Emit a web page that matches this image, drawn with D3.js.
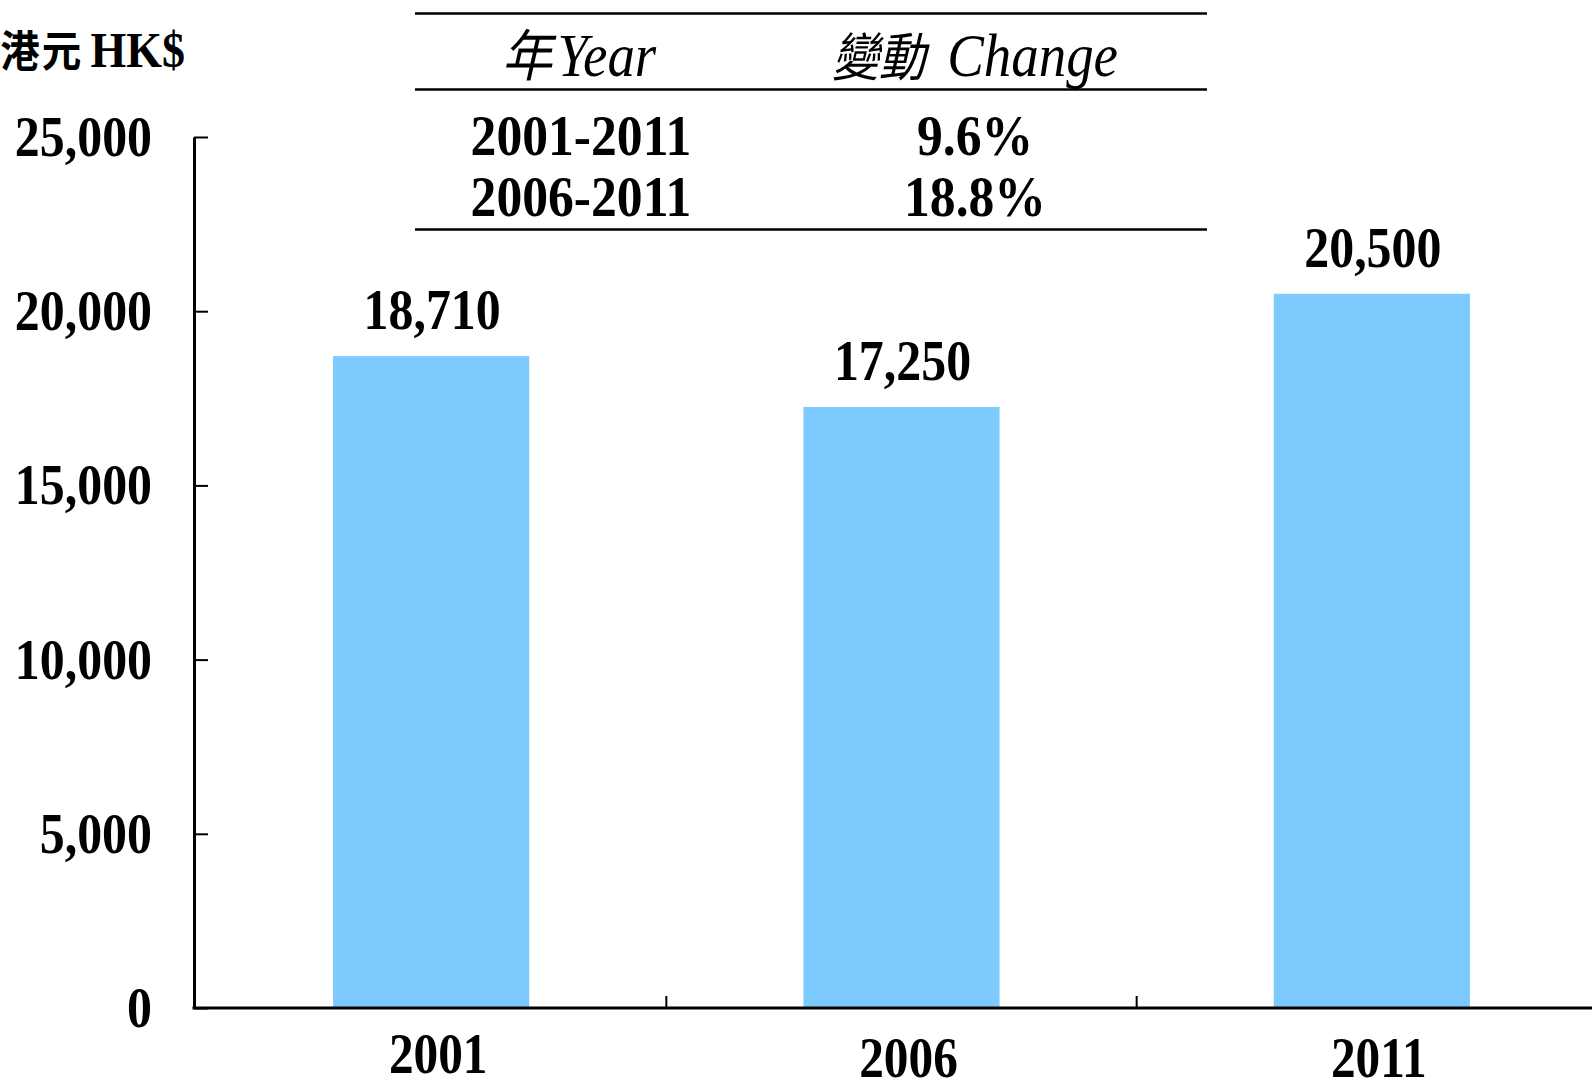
<!DOCTYPE html>
<html>
<head>
<meta charset="utf-8">
<script src="https://cdn.jsdelivr.net/npm/d3@7/dist/d3.min.js"></script>
<style>
  html, body { margin: 0; padding: 0; background: #fff; overflow: hidden; }
  svg { display: block; }
</style>
</head>
<body>
<svg id="chart" width="1592" height="1091"></svg>
<script>
// ---- data ----
const categories = ["2001", "2006", "2011"];
const values = [18710, 17250, 20500];
const valueLabels = ["18,710", "17,250", "20,500"];
const yTicks = [0, 5000, 10000, 15000, 20000, 25000];
const yTickLabels = ["0", "5,000", "10,000", "15,000", "20,000", "25,000"];
const unitCJK = "港元";
const unitLatin = "HK$";
const headerCJK = ["年", "變動"];
const headerLatin = ["Year", "Change"];
const tablePeriods = ["2001-2011", "2006-2011"];
const tableChanges = ["9.6%", "18.8%"];

// ---- layout ----
const W = 1592, H = 1091;
const axisX = 194, axisBottom = 1008, axisTop = 137;
const SERIF = "'Liberation Serif','Times New Roman',serif";
const CJK = "'Noto Sans CJK TC','Noto Sans CJK SC',sans-serif";
const BAR = "#7ccafe";

const svg = d3.select("#chart");

const x = d3.scaleBand().domain(categories).range([axisX + 2, 1607])
  .paddingInner(0.583).paddingOuter(0.2915);
const y = d3.scaleLinear().domain([0, 25000]).range([axisBottom, axisTop]);

function label(parent, px, py, str, opts) {
  const o = Object.assign({size: 58, anchor: "middle", sx: 0.85, weight: "bold", style: "normal"}, opts || {});
  return parent.append("text")
    .attr("transform", `translate(${px},${py}) scale(${o.sx},1)`)
    .attr("text-anchor", o.anchor)
    .attr("font-family", SERIF)
    .attr("font-size", o.size)
    .attr("font-weight", o.weight)
    .attr("font-style", o.style)
    .attr("fill", "#000")
    .text(str);
}

// bars
svg.append("g").selectAll("rect").data(values).join("rect")
  .attr("x", (d, i) => x(categories[i]))
  .attr("y", d => y(d))
  .attr("width", x.bandwidth())
  .attr("height", d => y(0) - y(d))
  .attr("fill", BAR);

// value labels
values.forEach((v, i) => {
  label(svg, x(categories[i]) + x.bandwidth() / 2 + 1, y(v) - 27, valueLabels[i], {sx: 0.86});
});

// y axis
const yAxis = d3.axisLeft(y).tickValues(yTicks).tickSizeInner(-14).tickSizeOuter(0).tickFormat("");
const gy = svg.append("g").attr("transform", `translate(${axisX},0)`).call(yAxis);
gy.select(".domain").attr("stroke", "#000").attr("stroke-width", 3);
gy.selectAll(".tick line").attr("stroke", "#000").attr("stroke-width", 2);
yTicks.forEach((t, i) => {
  label(svg, 152, y(t) + 19, yTickLabels[i], {anchor: "end", sx: 0.86});
});

// x axis (category boundary ticks)
const gap = x.step() - x.bandwidth();
const boundaries = categories.slice(1).map(c => x(c) - gap / 2);
svg.append("line")
  .attr("x1", axisX - 1.5).attr("x2", W)
  .attr("y1", y(0)).attr("y2", y(0))
  .attr("stroke", "#000").attr("stroke-width", 3);
svg.append("g").selectAll("line").data(boundaries).join("line")
  .attr("x1", d => d).attr("x2", d => d)
  .attr("y1", y(0)).attr("y2", y(0) - 12)
  .attr("stroke", "#000").attr("stroke-width", 2);
const xLabelBase = [1073, 1077, 1077];
categories.forEach((c, i) => {
  label(svg, x(c) + x.bandwidth() / 2 + 7, xLabelBase[i], c, {sx: 0.85});
});

// unit label
const ut = svg.append("text")
  .attr("transform", `translate(185,67) scale(0.92,1)`)
  .attr("text-anchor", "end")
  .attr("font-family", SERIF)
  .attr("font-weight", "bold")
  .attr("font-size", 50);
ut.append("tspan").attr("font-family", CJK).attr("font-size", 43).attr("font-weight", 700)
  .attr("letter-spacing", 2).text(unitCJK);
ut.append("tspan").attr("dx", 8).text(unitLatin);

// table
const tx1 = 415, tx2 = 1207;
[13.5, 89.5, 229.5].forEach(ly => {
  svg.append("line").attr("x1", tx1).attr("x2", tx2).attr("y1", ly).attr("y2", ly)
    .attr("stroke", "#000").attr("stroke-width", 2.5);
});
const colX = [579, 975];
const headerDx = [6, 24];
const headerCJKSize = [56, 52];
headerCJK.forEach((h, i) => {
  const t = svg.append("text")
    .attr("transform", `translate(${colX[i]},76) scale(0.9,1)`)
    .attr("text-anchor", "middle")
    .attr("font-family", SERIF)
    .attr("font-style", "italic")
    .attr("font-size", 61);
  t.append("tspan").attr("font-family", CJK).attr("font-size", headerCJKSize[i]).text(h);
  t.append("tspan").attr("dx", headerDx[i]).text(headerLatin[i]);
});
const rowBase = [155, 216];
tablePeriods.forEach((p, i) => {
  label(svg, 581, rowBase[i], p, {sx: 0.89});
  label(svg, 975, rowBase[i], tableChanges[i], {sx: 0.89});
});
</script>
</body>
</html>
